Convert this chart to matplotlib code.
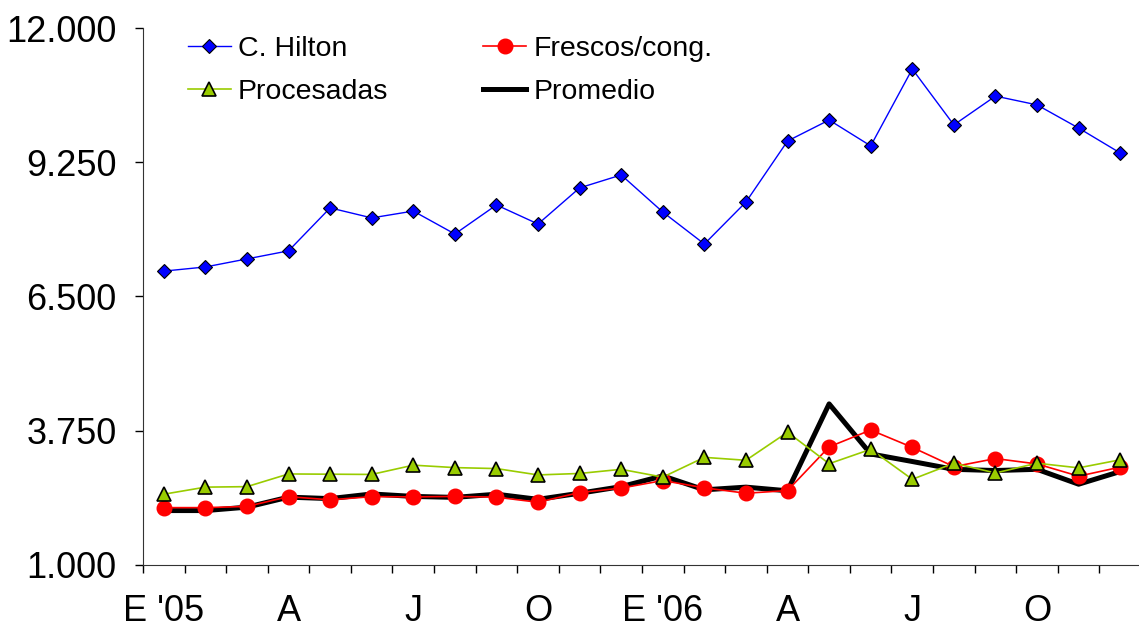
import matplotlib
matplotlib.use("Agg")
import matplotlib.pyplot as plt
import numpy as np

plt.rcParams['font.family'] = ['Liberation Sans', 'DejaVu Sans']

months = ["E '05", "F", "M", "A", "M", "J", "J", "A", "S", "O", "N", "D",
          "E '06", "F", "M", "A", "M", "J", "J", "A", "S", "O", "N", "D"]
tick_labels = ["E '05", "", "", "A", "", "", "J", "", "", "O", "", "",
               "E '06", "", "", "A", "", "", "J", "", "", "O", "", ""]

hilton = [7020, 7105, 7270, 7435, 8315, 8110, 8250, 7780, 8375, 7985, 8725, 8990,
          8230, 7575, 8435, 9685, 10115, 9585, 11160, 10015, 10605, 10425, 9950, 9440]
frescos = [2175, 2175, 2200, 2400, 2335, 2400, 2395, 2405, 2390, 2285, 2485, 2575,
           2730, 2580, 2470, 2525, 3420, 3765, 3410, 3015, 3180, 3070, 2820, 3005]
procesadas = [2450, 2595, 2605, 2865, 2860, 2855, 3045, 2995, 2975, 2845, 2875, 2960,
              2800, 3205, 3145, 3720, 3075, 3370, 2755, 3085, 2885, 3085, 2990, 3155]
promedio = [2115, 2115, 2185, 2390, 2360, 2455, 2405, 2385, 2450, 2345, 2470, 2605,
            2825, 2540, 2595, 2520, 4300, 3275, 3120, 2960, 2935, 2960, 2655, 2915]

x = np.arange(len(months))

fig = plt.figure(figsize=(11.39, 6.29), dpi=100)
ax = fig.add_axes([143 / 1139, 64 / 629, 998 / 1139, 537 / 629])

ax.plot(x, promedio, color='black', lw=3.6, zorder=2, label='Promedio')
ax.plot(x, frescos, color='#ff0000', lw=1.2, marker='o', ms=10.5,
        mfc='#ff0000', mec='#ff0000', zorder=3, label='Frescos/cong.')
ax.plot(x, procesadas, color='#99cc00', lw=1.2, marker='^', ms=10,
        mfc='#99cc00', mec='black', mew=1.2, zorder=4, label='Procesadas')
ax.plot(x, hilton, color='#0000ff', lw=1.0, marker='D', ms=7.5,
        mfc='#0000ff', mec='black', mew=0.8, zorder=5, label='C. Hilton')

ax.set_xlim(-0.5, 23.5)
ax.set_ylim(1000, 12000)
yt = [1000, 3750, 6500, 9250, 12000]
ax.set_yticks(yt)
ax.set_yticklabels([f"{v:,}".replace(",", ".") for v in yt], fontsize=26)
ax.tick_params(axis='y', length=6, width=1, pad=13, direction='out')

ax.set_xticks(x)
ax.set_xticklabels(tick_labels, fontsize=26)
ax.set_xticks(np.arange(-0.5, 24, 1), minor=True)
ax.tick_params(axis='x', which='major', length=0, pad=21)
ax.tick_params(axis='x', which='minor', length=6, width=1, direction='out')

for s in ['top', 'right']:
    ax.spines[s].set_visible(False)
ax.spines['left'].set_color('#333333')
ax.spines['bottom'].set_color('#333333')

h, l = ax.get_legend_handles_labels()
order = [3, 2, 1, 0]
ax.legend([h[i] for i in order], [l[i] for i in order], ncol=2, frameon=False,
          loc='upper left', bbox_to_anchor=(0.045, 0.985), fontsize=20.5,
          handlelength=1.5, handletextpad=0.25, columnspacing=3.35,
          labelspacing=0.6, borderaxespad=0, borderpad=0)

fig.savefig('out.png', dpi=100)
